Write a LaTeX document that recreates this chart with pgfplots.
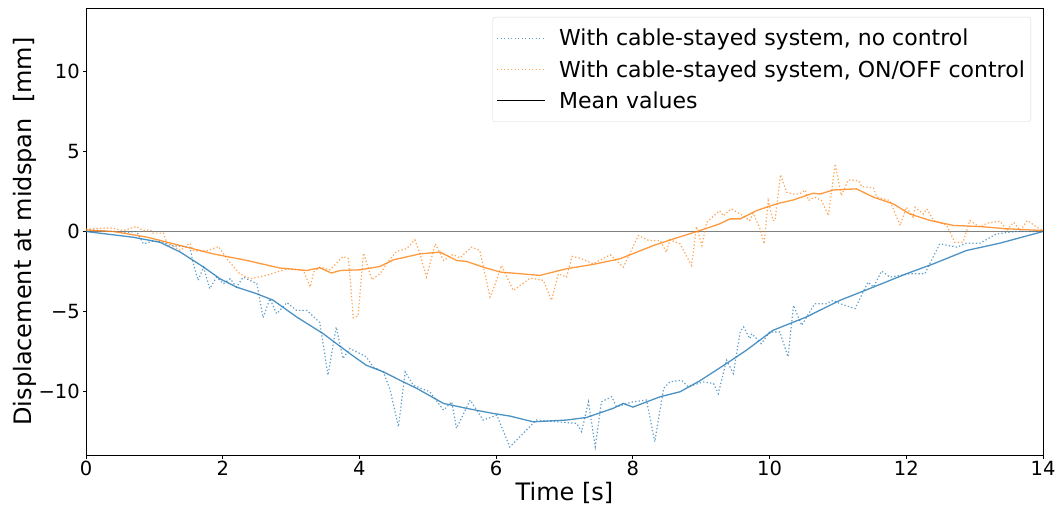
\documentclass[border=0pt]{standalone}
\usepackage{fontspec}
\setmainfont{DejaVu Sans}
\usepackage{pgfplots}
\pgfplotsset{compat=1.18}
\definecolor{c0}{HTML}{1F77B4}
\definecolor{c1}{HTML}{FF7F0E}
\begin{document}
\begin{tikzpicture}
\begin{axis}[
  scale only axis,
  width=957pt, height=447pt,
  xmin=0, xmax=14, ymin=-14, ymax=14,
  xtick={0,2,4,6,8,10,12,14},
  xticklabels={0,2,4,6,8,10,12,14},
  ytick={-10,-5,0,5,10},
  yticklabels={−10,−5,0,5,10},
  tick align=outside,
  major tick length=3.5pt,
  tick style={black, line width=0.8pt},
  xtick pos=bottom, ytick pos=left,
  axis line style={black, line width=0.8pt},
  ticklabel style={font=\fontsize{19.5}{19.5}\selectfont, inner sep=2.5pt},
  xlabel={Time [s]},
  ylabel={Displacement at midspan\ \ [mm]},
  label style={font=\fontsize{24}{24}\selectfont},
  ylabel style={xshift=0pt, yshift=-4pt},
  legend style={at={(0.9875,0.98)}, anchor=north east, draw=black!15, rounded corners=3pt,
    font=\fontsize{22}{22}\selectfont, row sep=9pt, inner xsep=4pt, inner ysep=10pt},
  legend cell align=left,
  legend image code/.code={\draw[#1] (0pt,0pt) -- (48pt,0pt); \path[draw=none] (0pt,0pt) -- (60pt,0pt);},
]
\coordinate (sw) at (rel axis cs:0,0);
\addplot[gray, line width=1.3pt, forget plot] coordinates {(0,0) (14,0)};
\addplot[c0, opacity=0.7, line width=1.2pt, dash pattern=on 1.3pt off 2.2pt] coordinates {
(0,0.1) (0.2,0.05) (0.4,0.0) (0.6,-0.05) (0.74,0.0) (0.84,-0.77) (0.98,-0.6) (1.13,-0.67)
(1.23,-0.88) (1.52,-0.98) (1.57,-2.02) (1.64,-3.06) (1.72,-2.23) (1.81,-3.58) (1.91,-2.86)
(2.01,-3.27) (2.11,-2.96) (2.20,-3.48) (2.30,-2.86) (2.50,-3.27) (2.59,-5.4) (2.69,-4.21)
(2.79,-5.15) (2.94,-4.45) (3.08,-4.94) (3.23,-4.94) (3.42,-5.7) (3.54,-9.0) (3.66,-5.98)
(3.76,-7.96) (3.86,-7.33) (4.10,-7.85) (4.20,-8.48) (4.35,-8.79) (4.45,-9.94) (4.57,-12.23)
(4.67,-8.79) (4.79,-9.63) (5.03,-10.04) (5.23,-11.19) (5.35,-10.67) (5.42,-12.33) (5.62,-10.56)
(5.81,-11.81) (6.01,-11.5) (6.20,-13.5) (6.54,-12.02) (6.59,-11.81) (7.18,-12.02) (7.25,-12.54)
(7.35,-10.67) (7.45,-13.48) (7.54,-10.67) (7.69,-10.35) (7.76,-10.98) (8.00,-10.67) (8.20,-10.56)
(8.32,-13.17) (8.45,-9.83) (8.54,-9.42) (8.71,-9.31) (8.81,-9.73) (9.03,-9.42) (9.18,-9.52)
(9.25,-10.15) (9.37,-8.06) (9.47,-8.9) (9.57,-6.29) (9.62,-5.98) (9.71,-6.71) (9.74,-6.4)
(9.88,-7.02) (10.0,-6.29) (10.15,-6.29) (10.27,-7.85) (10.35,-4.63) (10.47,-5.88) (10.66,-4.52)
(10.83,-4.52) (10.93,-4.31) (11.03,-4.52) (11.25,-4.83) (11.44,-3.17) (11.52,-3.48) (11.64,-2.48)
(11.76,-2.86) (12.05,-2.65) (12.27,-2.65) (12.49,-0.77) (12.74,-0.98) (12.88,-0.73) (13.08,-0.73)
(13.32,-0.15) (13.6,0.0) (14,0.0)};
\addlegendentry{With cable-stayed system, no control}
\addplot[c1, opacity=0.7, line width=1.2pt, dash pattern=on 1.3pt off 2.2pt] coordinates {
(0,0.15) (0.35,0.23) (0.55,0.06) (0.74,0.31) (0.84,0.06) (0.94,0.1) (0.98,-0.1) (1.13,-0.1)
(1.18,-0.67) (1.38,-1.19) (1.52,-0.73) (1.57,-1.19) (1.76,-1.23) (1.94,-0.94) (2.06,-1.71)
(2.25,-2.65) (2.40,-2.96) (2.64,-2.75) (2.94,-2.33) (3.18,-2.44) (3.28,-3.48) (3.33,-2.54)
(3.42,-2.23) (3.57,-2.4) (3.76,-1.56) (3.84,-1.71) (3.91,-5.4) (3.98,-5.3) (4.06,-1.35)
(4.18,-3.02) (4.30,-2.65) (4.42,-1.88) (4.54,-1.25) (4.69,-1.08) (4.81,-0.52) (4.88,-1.29)
(4.98,-2.85) (5.11,-0.77) (5.23,-1.81) (5.37,-1.44) (5.47,-1.65) (5.64,-0.98) (5.76,-1.19)
(5.91,-4.1) (5.96,-3.6) (6.08,-2.13) (6.25,-3.69) (6.50,-2.92) (6.69,-3.06) (6.81,-4.31)
(6.91,-2.65) (7.03,-2.85) (7.11,-1.56) (7.23,-1.67) (7.42,-2.02) (7.67,-1.46) (7.86,-2.23)
(8.08,-0.25) (8.23,-0.56) (8.40,-0.56) (8.49,-1.29) (8.54,-0.52) (8.69,-0.77) (8.86,-2.13)
(8.93,0.31) (9.01,-0.88) (9.08,0.58) (9.27,1.31) (9.32,0.98) (9.44,1.42) (9.57,1.1)
(9.71,0.69) (9.76,1.15) (9.86,0.17) (9.92,-0.77) (9.98,1.94) (10.05,0.69) (10.08,0.69)
(10.16,3.56) (10.25,2.46) (10.35,2.35) (10.44,2.35) (10.52,2.6) (10.57,1.94) (10.66,2.15)
(10.76,1.94) (10.86,1.0) (10.96,4.23) (11.05,2.25) (11.15,3.23) (11.30,3.19) (11.35,2.81)
(11.52,2.73) (11.57,2.15) (11.76,1.94) (11.91,0.38) (12.00,1.52) (12.10,0.9) (12.13,1.52)
(12.25,1.1) (12.30,1.42) (12.40,0.69) (12.59,0.38) (12.71,-0.67) (12.83,-0.67) (12.93,0.69)
(13.08,0.27) (13.18,0.52) (13.37,0.65) (13.47,0.06) (13.57,0.58) (13.67,0.06) (13.77,0.69)
(13.91,0.27) (14,0.06)};
\addlegendentry{With cable-stayed system, ON/OFF control}
\addlegendimage{black, line width=1pt}
\addlegendentry{Mean values}
\addplot[c0, opacity=0.8, line width=1.3pt, forget plot] coordinates {
(0,0) (0.69,-0.36) (1.08,-0.67) (1.38,-1.29) (1.72,-2.23) (1.96,-2.96) (2.2,-3.48) (2.5,-3.9)
(2.74,-4.31) (3.08,-5.35) (3.47,-6.4) (3.86,-7.65) (4.1,-8.38) (4.35,-8.79) (4.59,-9.31)
(4.84,-9.83) (5.23,-10.77) (5.57,-11.08) (5.96,-11.4) (6.2,-11.56) (6.54,-11.92) (7.03,-11.81)
(7.32,-11.65) (7.71,-11.08) (7.86,-10.77) (8.0,-11.0) (8.4,-10.35) (8.69,-10.04) (8.98,-9.35)
(9.37,-8.27) (9.66,-7.44) (10.05,-6.19) (10.54,-5.35) (11.03,-4.31) (11.52,-3.48) (12.0,-2.65)
(12.4,-2.02) (12.88,-1.19) (13.37,-0.73) (14,0)};
\addplot[c1, opacity=0.8, line width=1.3pt, forget plot] coordinates {
(0,0.1) (0.4,0) (0.89,-0.35) (1.38,-0.88) (1.86,-1.4) (2.35,-1.81) (2.84,-2.29) (3.23,-2.44)
(3.42,-2.27) (3.59,-2.6) (3.72,-2.44) (4.01,-2.4) (4.3,-2.19) (4.5,-1.77) (4.89,-1.4)
(5.18,-1.29) (5.42,-1.81) (5.57,-1.88) (5.81,-2.23) (6.06,-2.54) (6.64,-2.75) (7.03,-2.33)
(7.42,-2.06) (7.81,-1.71) (8.3,-0.88) (8.64,-0.4) (8.98,0.06) (9.27,0.48) (9.42,0.79)
(9.57,0.79) (9.81,1.31) (10.1,1.73) (10.35,1.98) (10.64,2.4) (10.74,2.35) (10.93,2.6)
(11.27,2.67) (11.52,2.15) (11.81,1.73) (12.05,1.1) (12.35,0.69) (12.69,0.38) (13.08,0.31)
(13.47,0.17) (14,0.06)};
\end{axis}
\pgfresetboundingbox
\path ([shift={(-86pt,-52pt)}]sw) rectangle ++(1059pt,507pt);
\end{tikzpicture}
\end{document}
